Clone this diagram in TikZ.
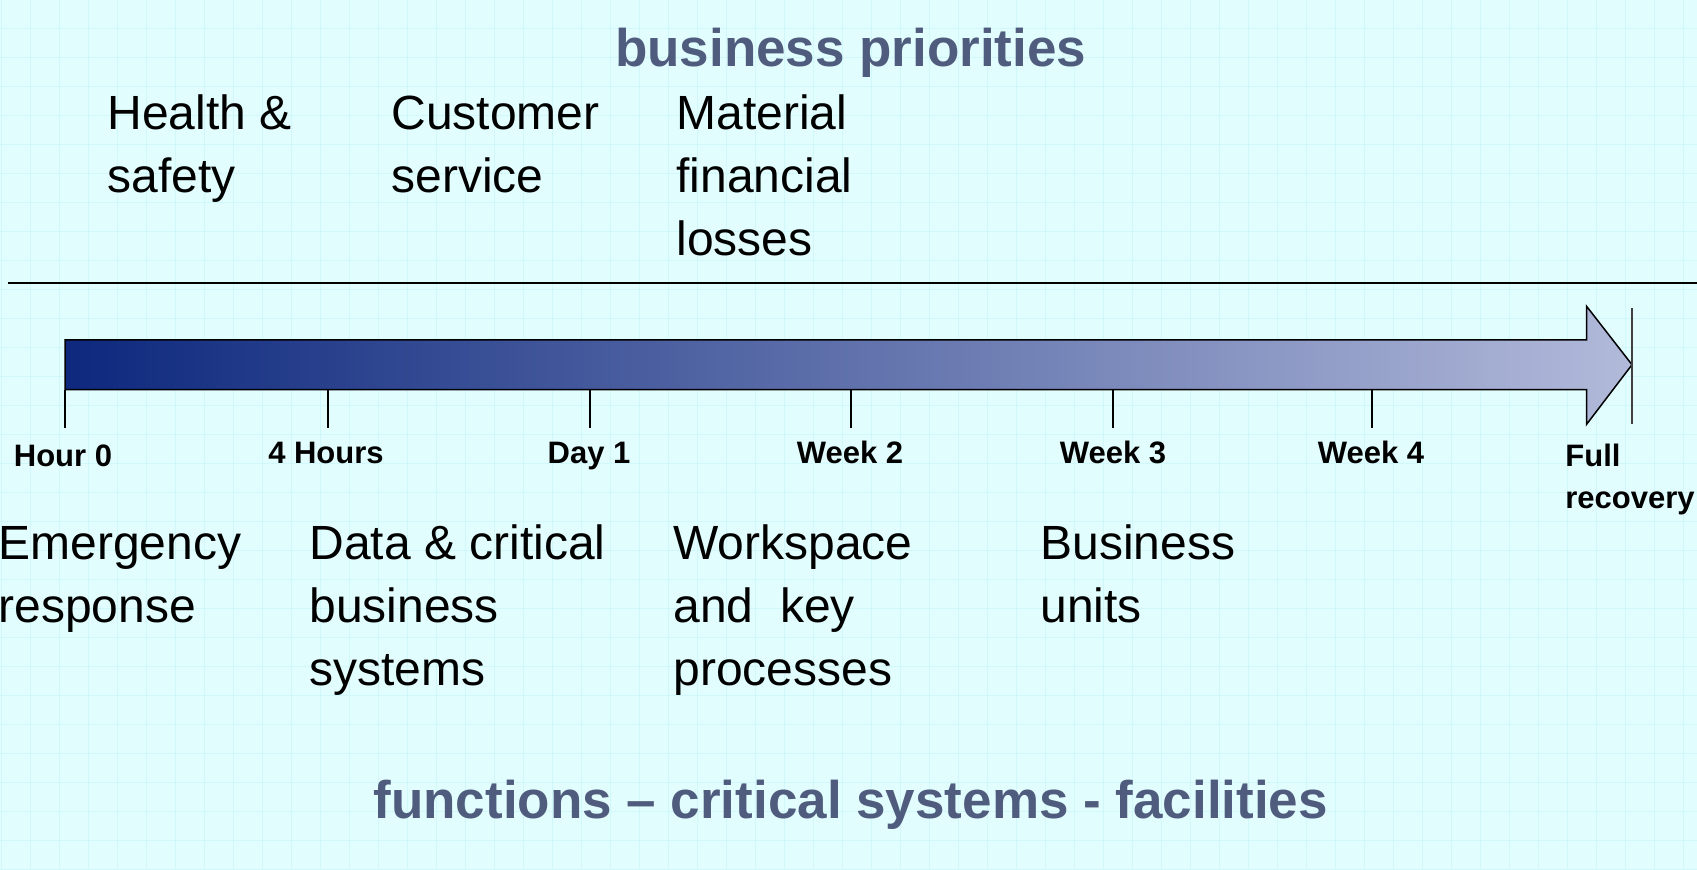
\documentclass[tikz,border=0pt]{standalone}
\usepackage{fontspec}
\setmainfont{Liberation Sans}
\definecolor{bgc}{RGB}{226,253,253}
\definecolor{gridc}{RGB}{208,247,249}
\definecolor{titlec}{RGB}{80,92,126}
\definecolor{arrowL}{RGB}{13,40,125}
\definecolor{arrowR}{RGB}{178,186,218}
\begin{document}
\begin{tikzpicture}[x=0.5pt,y=-0.5pt,
  big/.style={font=\fontsize{24}{31.5}\selectfont, align=left, anchor=base west, inner sep=0pt},
  ticklabel/.style={font=\bfseries\fontsize{15.5}{21}\selectfont, anchor=base, inner sep=0pt},
  titletext/.style={font=\bfseries\fontsize{26.5}{30}\selectfont, text=titlec, anchor=base, inner sep=0pt},
  tickline/.style={line width=0.75pt},
  gridline/.style={gridc, line width=0.5pt}]
\useasboundingbox (0,0) rectangle (1697,869);
\fill[bgc] (0,0) rectangle (1697,869);
\foreach \i in {0,...,58} \draw[gridline] ({29*\i+1.5},0) -- ++(0,869);
\foreach \j in {1,...,30} \draw[gridline] (0,{29*\j-1}) -- ++(1697,0);
% separator line
\coordinate (sepL) at (7.6,282.5);
\coordinate (sepR) at (1697,282.5);
\draw[line width=1pt] (sepL) -- (sepR);
% timeline arrow
\draw[line width=0.75pt, left color=arrowL, right color=arrowR]
  (65,339.8) -- (1586.6,339.8) -- (1586.6,306.3) -- (1632,364.7)
  -- (1586.6,424.3) -- (1586.6,389.6) -- (65,389.6) -- cycle;
\coordinate (endT) at (1632,308);
\coordinate (endB) at (1632,424);
\draw[line width=0.6pt, black!75] (endT) -- (endB);
% ticks
\foreach \x/\n in {65/t0,328/t1,590/t2,851/t3,1113/t4,1372/t5}{
  \coordinate (\n) at (\x,389.6);
  \draw[tickline] (\n) -- ++(0,38);
}
% tick labels
\node[ticklabel] (h0) at (63,466) {Hour 0};
\node[ticklabel] (h4) at (326,463) {4 Hours};
\node[ticklabel] (d1) at (589,463) {Day 1};
\node[ticklabel] (w2) at (850,463) {Week 2};
\node[ticklabel] (w3) at (1113,463) {Week 3};
\node[ticklabel] (w4) at (1371,463) {Week 4};
\node[ticklabel, anchor=base west, align=left] (fr) at (1565,508) {Full\\recovery};
% titles
\node[titletext] (bp) at (850.7,66) {business priorities};
\node[titletext] (fcs) at (850.7,818) {functions – critical systems - facilities};
% priorities (anchor = baseline of last line)
\node[big] (hs) at (107,192) {Health \&\\safety};
\node[big] (cs) at (391,192) {Customer\\service};
\node[big] (mf) at (676,255) {Material\\financial\\losses};
% functions
\node[big] (er) at (-2,622) {Emergency\\response};
\node[big] (dc) at (309,685) {Data \& critical\\business\\systems};
\node[big] (wk) at (673,685) {Workspace\\and\ \ key\\processes};
\node[big] (bu) at (1040,622) {Business\\units};
\end{tikzpicture}
\end{document}
